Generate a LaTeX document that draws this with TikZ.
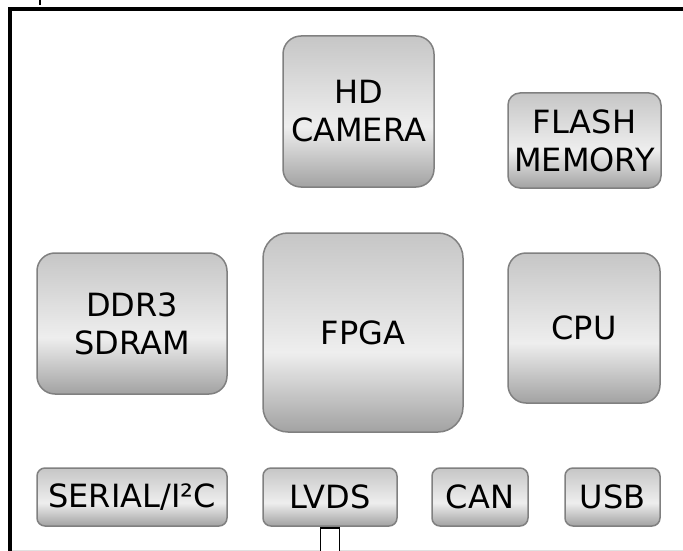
\documentclass[tikz,border=0pt]{standalone}
\usepackage{fontspec}
\setmainfont{DejaVu Sans}

\definecolor{chiptop}{HTML}{C6C6C6}
\definecolor{chiplight}{HTML}{EEEEEE}
\definecolor{chipbot}{HTML}{A2A2A2}
\definecolor{chipline}{HTML}{808080}
% grey metal look, lightest a bit below the middle
\pgfdeclareverticalshading{chipshade}{100bp}{color(0bp)=(chipbot); color(25bp)=(chipbot); color(45bp)=(chiplight); color(75bp)=(chiptop); color(100bp)=(chiptop)}

\begin{document}
\begin{tikzpicture}[x=1pt, y=-1pt,
		chip/.style={draw=chipline, line width=1.5pt, shading=chipshade, align=center, inner sep=0pt, font=\fontsize{32}{38}\selectfont},
		port/.style={chip, minimum height=58pt, rounded corners=8pt}]
			\useasboundingbox (0,0) rectangle (683,551);
			
			% board outline
			\draw[line width=4pt] (10,560) -- (10,9) -- (690,9);
			\draw[line width=1.5pt] (40,-2) -- (40,5);
			\draw[very thin, black!12] (12,550) -- (690,550);
			
			\node (camera) at (358.5,111.5) [chip, minimum width=151pt, minimum height=151pt, rounded corners=18pt]{HD\\CAMERA};
			\node (flash) at (584.5,140.5) [chip, minimum width=153pt, minimum height=95pt, rounded corners=12pt]{FLASH\\MEMORY};
			\node (ddr) at (132,323.5) [chip, minimum width=190pt, minimum height=141pt, rounded corners=18pt]{DDR3\\SDRAM};
			\node (fpga) at (363,332.5) [chip, minimum width=200pt, minimum height=199pt, rounded corners=25pt]{FPGA};
			\node (cpu) at (584,328) [chip, minimum width=152pt, minimum height=150pt, rounded corners=18pt]{CPU};
			
			% connectors along the bottom edge
			\node (serial) at (132,497) [port, minimum width=190pt]{SERIAL/I²C};
			\node (lvds) at (330,497) [port, minimum width=134pt]{LVDS};
			\node (can) at (480,497) [port, minimum width=96pt]{CAN};
			\node (usb) at (612.5,497) [port, minimum width=95pt]{USB};
			
			\draw[line width=1.5pt, fill=white] ([xshift=-9.5pt, yshift=-1pt]lvds.south) rectangle ++(19,30);
		\end{tikzpicture}
\end{document}
